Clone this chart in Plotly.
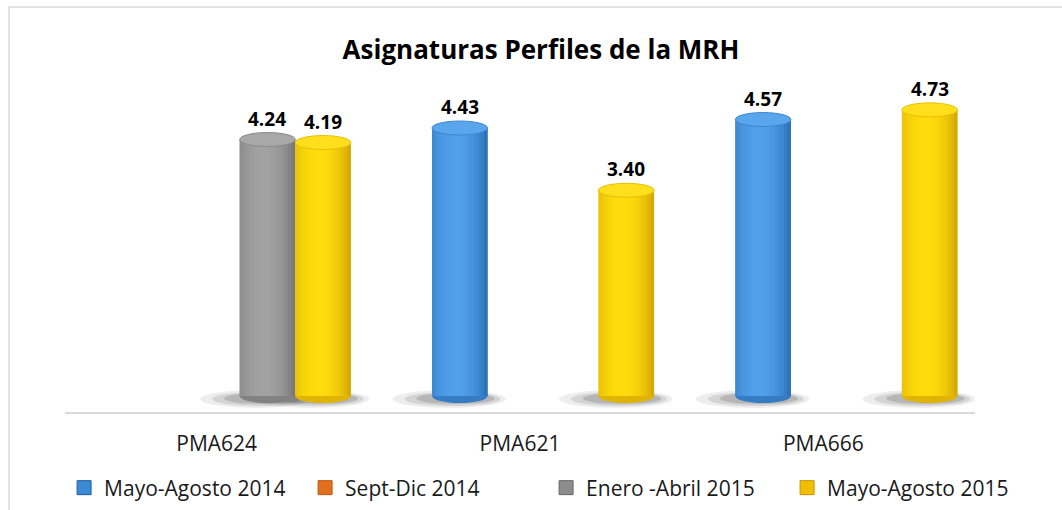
import plotly.graph_objects as go

# ---------------- data ----------------
categories = ["PMA624", "PMA621", "PMA666"]
series_names = ["Mayo-Agosto 2014", "Sept-Dic 2014", "Enero -Abril 2015", "Mayo-Agosto 2015"]
mayo_agosto_2014 = [None, 4.43, 4.57]
sept_dic_2014 = [None, None, None]
enero_abril_2015 = [4.24, None, None]
mayo_agosto_2015 = [4.19, 3.40, 4.73]
title_text = "Asignaturas Perfiles de la MRH"

series_values = [mayo_agosto_2014, sept_dic_2014, enero_abril_2015, mayo_agosto_2015]

# ---------------- style ----------------
dark = [(32, 94, 164), (190, 85, 20), (104, 104, 104), (198, 148, 0)]
light = [(80, 160, 236), (245, 140, 60), (162, 162, 162), (255, 220, 12)]
legend_col = ["#3a8ad6", "#e0701e", "#8c8c8c", "#f0c000"]
FONT = "Open Sans"

SLOT = 0.183        # width of one bar slot (category units)
SHIFT = 0.076       # perspective shift of the bar group
NSTRIP = 16
GROUP = SLOT * len(series_names)


def mix(c1, c2, k):
    return tuple(c1[i] + (c2[i] - c1[i]) * k for i in range(3))


def rgb(c, a=None):
    r, g, b = (int(round(v)) for v in c)
    return f"rgb({r},{g},{b})" if a is None else f"rgba({r},{g},{b},{a})"


def profile(t):
    k = 1 - ((t - 0.42) / 0.62) ** 2
    return max(0.0, k) ** 0.8


fig = go.Figure()
shapes_below = []
shapes_shadow = []
shapes_above = []
annotations = []

for i, (name, vals) in enumerate(zip(series_names, series_values)):
    slot_left = SHIFT - GROUP / 2 + i * SLOT
    if any(v is not None for v in vals):
        # base body
        fig.add_trace(go.Bar(
            x=categories, y=vals, offset=slot_left, width=SLOT,
            marker=dict(color=rgb(mix(dark[i], light[i], 0.5)), line=dict(width=0)),
            showlegend=False, hoverinfo="skip"))
        sw = SLOT / NSTRIP
        for j in range(NSTRIP):
            t = (j + 0.5) / NSTRIP
            w = sw * (1.0 if j == NSTRIP - 1 else 1.25)
            fig.add_trace(go.Bar(
                x=categories, y=vals, offset=slot_left + j * sw, width=w,
                marker=dict(color=rgb(mix(dark[i], light[i], profile(t))), line=dict(width=0)),
                showlegend=False, hoverinfo="skip"))
        for idx, v in enumerate(vals):
            if v is None:
                continue
            x0 = idx + slot_left
            x1 = x0 + SLOT
            # soft shadow
            for (ex, ey0, ey1, a) in [(0.10, -12, 6, 0.07), (0.07, -10, 4, 0.10), (0.04, -8, 3, 0.14)]:
                shapes_shadow.append(dict(
                    type="circle", xref="x", yref="y", layer="below",
                    x0=x0 - ex * 1.3, x1=x1 + ex * 0.6,
                    ysizemode="pixel", yanchor=0, y0=ey0, y1=ey1,
                    fillcolor=f"rgba(0,0,0,{a})", line=dict(width=0)))
            # rounded bottom
            shapes_below.append(dict(
                type="circle", xref="x", yref="y", layer="below",
                x0=x0, x1=x1, ysizemode="pixel", yanchor=0, y0=-7, y1=7,
                fillcolor=rgb(mix(dark[i], light[i], 0.45)), line=dict(width=0)))
            # top cap
            shapes_above.append(dict(
                type="circle", xref="x", yref="y", layer="above",
                x0=x0, x1=x1, ysizemode="pixel", yanchor=v, y0=-7, y1=7,
                fillcolor=rgb(mix(light[i], (255, 255, 255), 0.06)),
                line=dict(width=1, color=rgb(mix(dark[i], light[i], 0.6)))))
            annotations.append(dict(
                x=idx + slot_left + SLOT / 2, y=v, xref="x", yref="y",
                text=f"{v:.2f}", showarrow=False, yanchor="middle", yshift=21,
                font=dict(family=FONT, size=19, color="#000000", weight="bold")))
    # legend entry
    fig.add_trace(go.Scatter(
        x=[None], y=[None], mode="markers", name=name,
        marker=dict(symbol="square", size=14, color=legend_col[i],
                    line=dict(width=1, color=rgb(dark[i]))),
        hoverinfo="skip"))

# chart frame
shapes_frame = [dict(type="rect", xref="paper", yref="paper",
                     x0=-0.0615, x1=1.12, y0=-0.36, y1=1.298,
                     line=dict(color="#d9d9d9", width=1.5), fillcolor="rgba(0,0,0,0)")]

fig.update_layout(
    width=1062, height=510,
    margin=dict(l=65, r=87, t=100, b=98, autoexpand=False),
    paper_bgcolor="white", plot_bgcolor="white",
    barmode="overlay",
    title=dict(text=title_text, x=541 / 1062, xanchor="center", y=1 - 50 / 510, yanchor="middle",
               font=dict(family=FONT, size=26, color="#000000", weight="bold")),
    xaxis=dict(type="category", categoryorder="array", categoryarray=categories,
               range=[-0.5, 2.5], showline=True, linecolor="#d9d9d9", linewidth=2,
               showgrid=False, zeroline=False, ticks="", ticklabelstandoff=12,
               tickfont=dict(family=FONT, size=21, color="#1a1a1a"), fixedrange=True,
               automargin=False),
    yaxis=dict(range=[-0.2645, 4.893], showgrid=False, zeroline=False, showline=False,
               showticklabels=False, ticks="", fixedrange=True, automargin=False),
    legend=dict(orientation="h", x=-0.001, xanchor="left", y=-0.2436, yanchor="middle",
                font=dict(family=FONT, size=21, color="#1a1a1a"),
                entrywidth=196, entrywidthmode="pixels", bgcolor="rgba(0,0,0,0)",
                itemclick=False, itemdoubleclick=False),
    shapes=shapes_frame + shapes_shadow + shapes_below + shapes_above,
    annotations=annotations,
    showlegend=True,
)

fig.write_html("out.html", config={"displayModeBar": False},
               post_script="document.body.style.margin='0px';")
